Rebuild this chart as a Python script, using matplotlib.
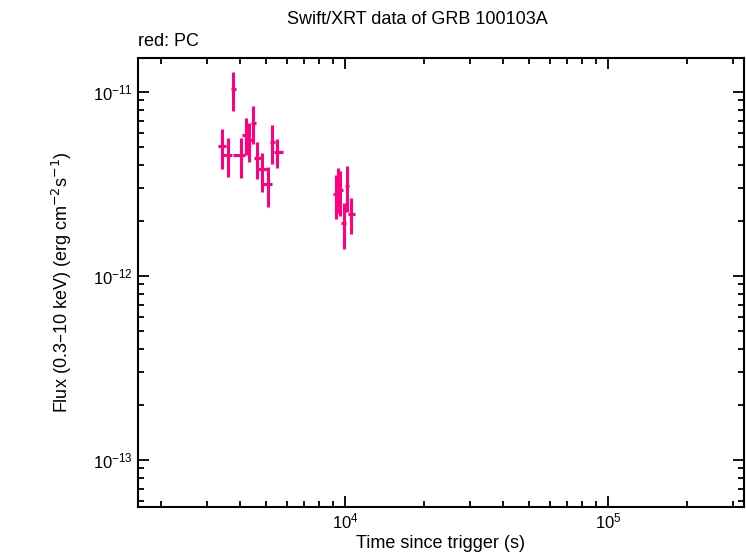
import matplotlib
matplotlib.use("Agg")
import matplotlib.pyplot as plt
import numpy as np

plt.rcParams['font.family'] = ['Liberation Sans', 'DejaVu Sans']

t = [3404, 3589, 4027, 3750, 4207, 4315, 4467, 4624, 4831, 5093, 5275, 5510,
     9247, 9397, 9572, 9912, 10177, 10540]
t_lo = [3291, 3440, 3750, 3685, 4060, 4245, 4390, 4505, 4670, 4831, 5186, 5369,
        9003, 9247, 9397, 9656, 10000, 10266]
t_hi = [3523, 3722, 4167, 3850, 4315, 4430, 4585, 4831, 5047, 5275, 5413, 5815,
        9397, 9572, 9826, 10088, 10356, 10915]
flux = [5.09e-12, 4.55e-12, 4.55e-12, 1.04e-11, 5.84e-12, 5.48e-12, 6.79e-12, 4.38e-12,
        3.82e-12, 3.16e-12, 5.35e-12, 4.72e-12,
        2.79e-12, 2.93e-12, 2.93e-12, 1.94e-12, 3.08e-12, 2.17e-12]
f_lo = [3.82e-12, 3.45e-12, 3.41e-12, 7.88e-12, 4.55e-12, 4.17e-12, 5.21e-12, 3.37e-12,
        2.86e-12, 2.37e-12, 4.06e-12, 3.86e-12,
        2.04e-12, 2.20e-12, 2.12e-12, 1.40e-12, 2.23e-12, 1.69e-12]
f_hi = [6.29e-12, 5.62e-12, 5.62e-12, 1.28e-11, 7.22e-12, 6.79e-12, 8.39e-12, 5.35e-12,
        4.66e-12, 3.91e-12, 6.62e-12, 5.55e-12,
        3.54e-12, 3.86e-12, 3.72e-12, 2.49e-12, 3.96e-12, 2.65e-12]

t = np.array(t); flux = np.array(flux)
xerr = [t - np.array(t_lo), np.array(t_hi) - t]
yerr = [flux - np.array(f_lo), np.array(f_hi) - flux]

fig = plt.figure(figsize=(7.46, 5.58), dpi=100)
ax = fig.add_axes([138/746, 1 - 507/558, (744-138)/746, (507-58)/558])
ax.errorbar(t, flux, xerr=xerr, yerr=yerr, fmt='none', ecolor='#ff0080', elinewidth=2.2, capsize=0)
ax.set_xscale('log'); ax.set_yscale('log')
ax.set_xlim(1633, 3.29e5)
ax.set_ylim(10**-13.255, 10**-10.815)
for s in ax.spines.values():
    s.set_linewidth(1.5)
ax.tick_params(which='both', direction='in', top=True, right=True, labelsize=12)
ax.tick_params(which='major', length=8, width=1.3)
ax.tick_params(which='minor', length=4, width=1.3)
ax.minorticks_on()
ax.set_xlabel('Time since trigger (s)', fontsize=13, labelpad=2)
ax.set_ylabel('Flux (0.3\u201310 keV) (erg cm$^{-2}$s$^{-1}$)', fontsize=13, labelpad=14)
fig.text(0.5 + 0.06, 1 - 20/558, 'Swift/XRT data of GRB 100103A', ha='center', va='center', fontsize=13)
fig.text(138/746, 1 - 42/558, 'red: PC', ha='left', va='center', fontsize=13)
fig.savefig('out.png', dpi=100)
